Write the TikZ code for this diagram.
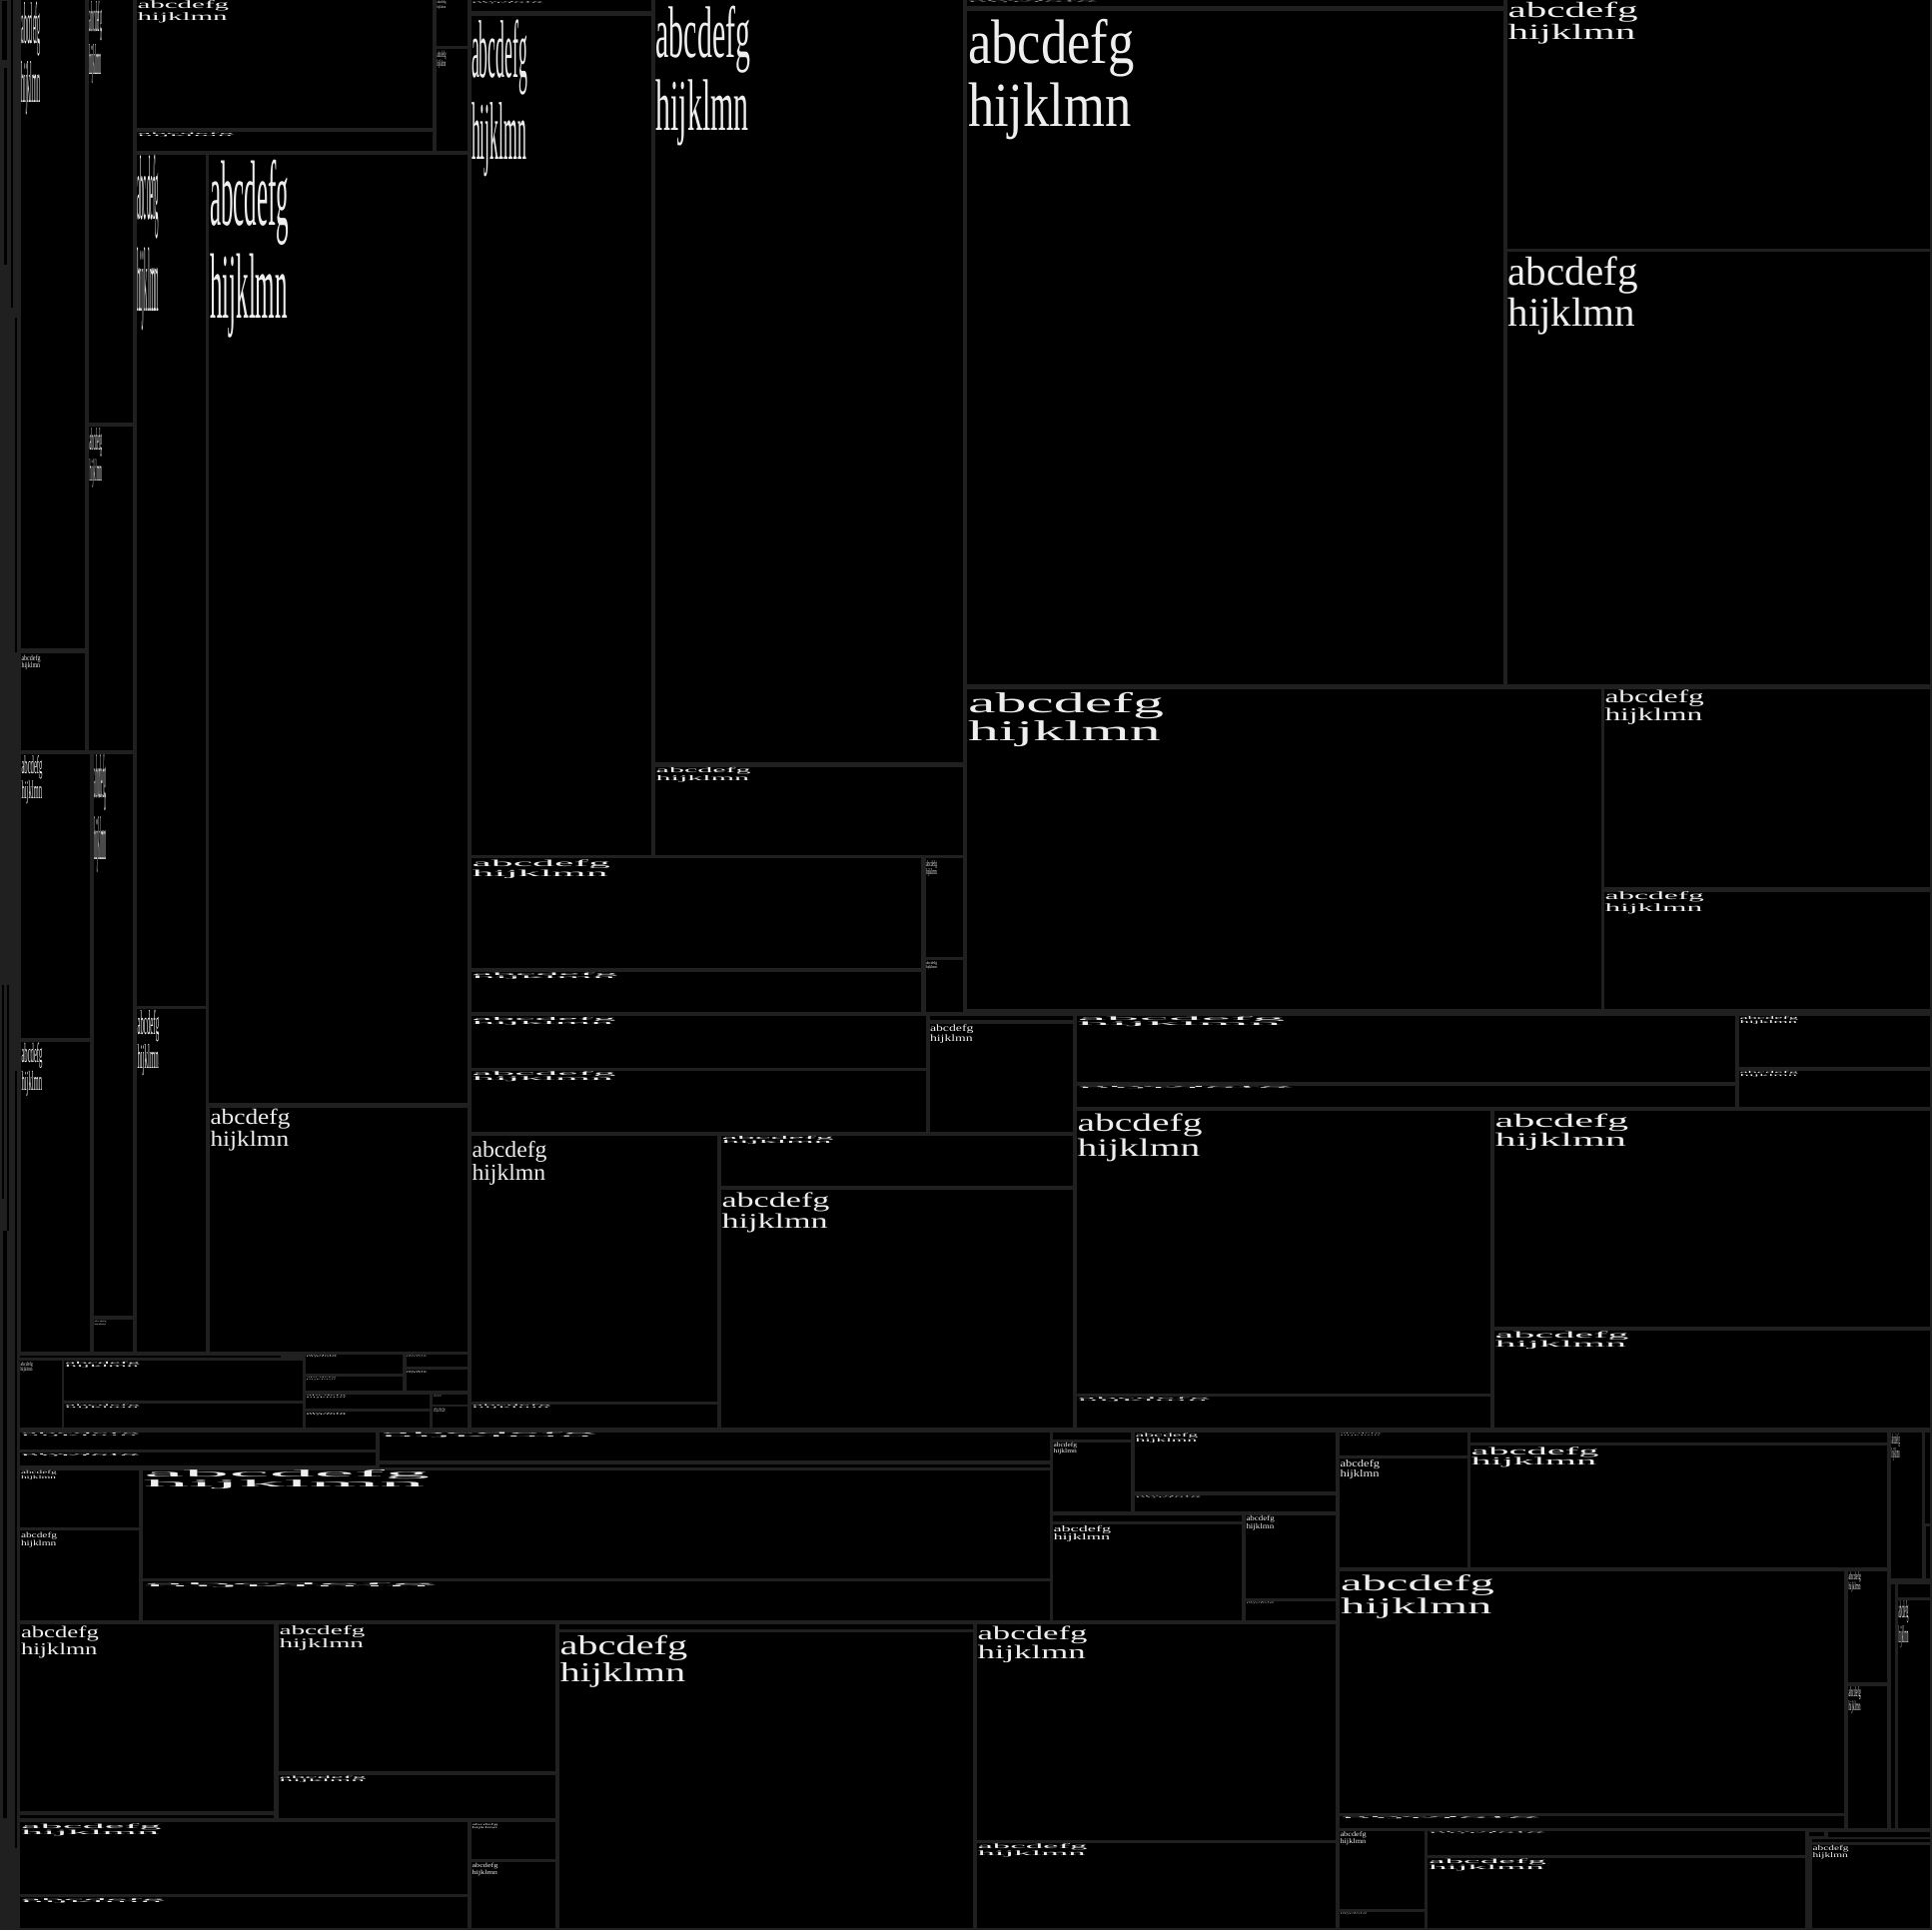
\documentclass[tikz,border=0pt]{standalone}
\usepackage{fontspec}
\setmainfont{Liberation Serif}
\usepackage{graphicx}
\definecolor{gapc}{RGB}{32,32,32}
\definecolor{inkc}{RGB}{238,238,238}
\newcommand\lblbox{\vbox{\fontsize{10pt}{10pt}\selectfont\baselineskip=10pt\hbox{abcdefg}\hbox{hijklmn}}}
\tikzset{
  cellbox/.style={fill=black},
  sliver/.style={fill=black},
  lbltext/.style={anchor=north west, inner sep=0pt, outer sep=0pt, text=inkc}
}
\newcommand\cell[4]{\fill[cellbox] (#1,#2) rectangle (#3,#4);}
\newcommand\lbl[5]{\node[lbltext] (#1) at (#2,#3) {\resizebox*{#4pt}{#5pt}{\lblbox}};}
\begin{document}
\begin{tikzpicture}[x=1pt,y=-1pt]
\useasboundingbox (0,0) rectangle (1934,1932);
\fill[gapc] (0,0) rectangle (1934,1932);
% left strip slivers
\fill[sliver] (2,1) rectangle (7,60);
\fill[sliver] (4,68) rectangle (7,265);
\fill[sliver] (11,0) rectangle (12.5,308);
\fill[sliver] (14.7,318) rectangle (17.3,653);
\fill[sliver] (2,986) rectangle (3.5,1200);
\fill[sliver] (7.3,986) rectangle (9,1232);
\fill[sliver] (14.7,1072) rectangle (16.7,1850);
\fill[sliver] (3,1232) rectangle (6.5,1820);
% ---------- region 1 ----------
\cell{20.7}{0}{85}{649.4}        \lbl{l1}{21.5}{2}{19.3}{113}
\cell{20.7}{654}{85}{751}        \lbl{l2}{21.5}{655.5}{19}{15}
\cell{89}{0}{133}{423}           \lbl{l3}{89.5}{1}{12.7}{83}
\cell{89}{427}{133}{751}         \lbl{l4}{89.5}{428}{12.7}{60}
\cell{136.7}{0}{433.3}{128.3}    \lbl{l5}{137.5}{1}{91.7}{21.7}
\cell{136.7}{132.3}{433.3}{150.7}\lbl{l6}{137.5}{133}{97}{4}
\cell{436.7}{0}{468.3}{46}       \lbl{l7}{437.5}{1}{9}{8}
\cell{436.7}{49.3}{468.3}{150.7} \lbl{l8}{437.5}{50.7}{9}{17.7}
\cell{136.7}{155}{206}{1006.5}   \lbl{l9}{137.5}{155.5}{21.7}{175}
\cell{209.3}{155}{468.3}{1104}   \lbl{l10}{210}{160}{79.3}{178}
\cell{20.7}{754.5}{90}{1038.6}   \lbl{l11}{21.5}{756}{21}{49}
\cell{20.7}{1042.7}{90}{1352.6}  \lbl{l12}{21.5}{1044}{21}{53}
\cell{94}{754.5}{132.7}{1317}    \lbl{l13}{94.5}{755.5}{12}{118}
\cell{94}{1321}{132.7}{1352.6}   \lbl{l14}{94.5}{1322.5}{12}{4}
\cell{136.7}{1010}{206}{1352.6}  \lbl{l15}{137.5}{1011}{21.7}{66}
\cell{210}{1108.7}{468.3}{1352.6}\lbl{l16}{210.5}{1110}{80}{42}
% row below region 1
\cell{20}{1356.5}{281}{1359}
\cell{20}{1361.7}{61.7}{1429}    \lbl{l17}{20.5}{1363}{12.3}{11}
\cell{64.3}{1361.7}{302.7}{1401.7}\lbl{l18}{65}{1363}{75}{6}
\cell{64.3}{1405}{302.7}{1429}   \lbl{l19}{65}{1406}{75}{4}
\cell{306}{1356}{403}{1375}      \lbl{l20}{306.5}{1356.5}{30.7}{2.5}
\cell{306}{1378.3}{403}{1392.3}  \lbl{l21}{306.5}{1379}{30}{2.5}
\cell{406.7}{1356}{468.3}{1368.3}\lbl{l22}{407}{1356.5}{20}{2}
\cell{406.7}{1371}{468.3}{1392.3}\lbl{l23}{407}{1372}{20}{3}
\cell{306}{1395.7}{430}{1410}    \lbl{l24}{306.5}{1396.5}{40}{3}
\cell{306}{1413.3}{430}{1429}    \lbl{l25}{306.5}{1414}{40}{3}
\cell{433.3}{1395.7}{468.3}{1406}\lbl{l26}{434}{1396.5}{8}{2}
\cell{433.3}{1408.3}{468.3}{1429}\lbl{l27}{434}{1409.5}{11.7}{5}
% rows y 1434-1622
\cell{20}{1434}{376}{1451}       \lbl{l28}{21}{1434.5}{119}{3}
\cell{20}{1454}{376}{1467}       \lbl{l29}{21}{1455}{119}{3}
\cell{380}{1434}{1051}{1461.7}   \lbl{l30}{381}{1434.5}{216}{4}
\cell{380}{1466}{1051}{1469}
\cell{20}{1471.7}{138.6}{1529.3} \lbl{l32}{21}{1472.5}{35.7}{9}
\cell{20}{1532}{138.6}{1621.7}   \lbl{l33}{21}{1534}{36}{15}
\cell{143}{1472}{1051}{1580}     \lbl{l34}{144}{1472}{286}{19}
\cell{143}{1583.3}{1051}{1621.7} \lbl{l35}{144}{1584.5}{293}{5}
% cells x 1054-1337
\cell{1054}{1434}{1132}{1441}
\cell{1054}{1443.5}{1132}{1513}  \lbl{l37}{1054.5}{1444}{23.7}{12}
\cell{1136}{1434}{1337}{1493}    \lbl{l38}{1136.5}{1434.5}{62.7}{9.7}
\cell{1136}{1497}{1337}{1513}    \lbl{l39}{1136.5}{1497.5}{66}{2}
\cell{1054}{1517}{1243}{1523}
\cell{1054}{1526}{1243}{1622}    \lbl{l41}{1054.5}{1527}{57.7}{16.7}
\cell{1247}{1517}{1337}{1600}    \lbl{l42}{1247.5}{1517.5}{28.3}{14.3}
\cell{1247}{1603}{1337}{1622}    \lbl{l43}{1247.5}{1604}{28}{2}
% far right x 1341-1932
\cell{1341}{1434}{1469}{1457}    \lbl{l44}{1341.5}{1435}{40.7}{2.3}
\cell{1341}{1460}{1469}{1569}    \lbl{l45}{1341.5}{1461.7}{39.7}{19.3}
\cell{1472}{1434}{1889}{1444}
\cell{1472}{1447}{1889}{1569}    \lbl{l47}{1472.5}{1448.3}{128}{21}
\cell{1893}{1434}{1924}{1580}    \lbl{l48}{1893.5}{1435}{8.3}{27.7}
\cell{1927}{1434}{1932}{1525}
\cell{1928}{1528}{1932}{1580}
\cell{1341}{1573}{1846}{1815}    \lbl{l51}{1342}{1576.7}{154}{43.3}
\cell{1341}{1818}{1846}{1830}    \lbl{l52}{1342}{1818.5}{200}{2.5}
\cell{1850}{1573}{1889}{1684}    \lbl{l53}{1850.5}{1573.5}{12.3}{20.7}
\cell{1850}{1688}{1889}{1830}    \lbl{l54}{1850.5}{1688.5}{12.3}{26.7}
\cell{1893}{1586}{1897}{1830}
\cell{1900}{1586}{1932}{1599}
\cell{1900}{1602}{1932}{1830}    \lbl{l57}{1900.5}{1602.5}{10}{46.7}
\cell{1341}{1833}{1426}{1911}    \lbl{l58}{1341.5}{1834}{26.3}{13.3}
\cell{1341}{1914}{1426}{1930}    \lbl{l59}{1341.5}{1914.5}{27}{2}
\cell{1429}{1833}{1807}{1857}    \lbl{l60}{1430}{1834}{117}{2}
\cell{1429}{1860}{1807}{1930}    \lbl{l61}{1430}{1861}{118}{12.3}
\cell{1811}{1834}{1826}{1838}
\cell{1830}{1834}{1932}{1838.5}
\cell{1814}{1840.5}{1932}{1844}
\cell{1814}{1847}{1932}{1930}    \lbl{l65}{1814.5}{1847.5}{36}{14}
% bottom left
\cell{20.3}{1625.7}{273.8}{1813.3}\lbl{l66}{21}{1628}{77.8}{31.7}
\cell{20.3}{1816.7}{273.8}{1820}
\cell{279}{1625.7}{555.8}{1772.7}\lbl{l68}{279.5}{1627.5}{86}{25}
\cell{279}{1776.7}{555.8}{1820}  \lbl{l69}{279.5}{1777.5}{87}{7}
\cell{20.3}{1824.3}{467.9}{1895.7}\lbl{l70}{21}{1825.5}{140.6}{12.3}
\cell{20.3}{1899}{467.9}{1930}   \lbl{l71}{21}{1900.5}{144}{5}
\cell{472}{1824.3}{555.8}{1860.7}\lbl{l72}{472.5}{1825.5}{26}{5.3}
\cell{472}{1864}{555.8}{1930}    \lbl{l73}{472.5}{1865.5}{26}{12}
\cell{560}{1625.7}{973.6}{1630.7}
\cell{560}{1634}{973.6}{1930}    \lbl{l75}{560.5}{1637}{127.8}{52.7}
\cell{978}{1625.7}{1337}{1842}   \lbl{l76}{978.5}{1628}{110}{37}
\cell{978}{1845}{1337}{1930}     \lbl{l77}{978.5}{1846}{110}{13}
% ---------- region 5 ----------
\cell{1078}{1016.7}{1737}{1083.3}\lbl{l78}{1078.5}{1017.5}{208}{10}
\cell{1078}{1086.7}{1737}{1107.7}\lbl{l79}{1078.5}{1087.5}{216}{2.7}
\cell{1741}{1016.7}{1932}{1068.3}\lbl{l80}{1741.5}{1017.5}{58.5}{8}
\cell{1741}{1071.7}{1932}{1107.7}\lbl{l81}{1741.5}{1072.5}{58.5}{5.7}
\cell{1078}{1111.7}{1492}{1395}  \lbl{l82}{1078.5}{1115}{125}{48.3}
\cell{1078}{1398}{1492}{1429.3}  \lbl{l83}{1078.5}{1399}{132.7}{4.3}
\cell{1496}{1111.7}{1932}{1328.3}\lbl{l84}{1496.5}{1115}{133.8}{36.7}
\cell{1496}{1331.7}{1932}{1429.3}\lbl{l85}{1496.5}{1332.5}{134}{17.7}
% ---------- region 2 lower rows and region 4 ----------
\cell{472}{859}{922}{969.4}      \lbl{l86}{472.5}{861}{138.4}{18}
\cell{472}{973}{922}{1013}       \lbl{l87}{472.5}{973.5}{146}{7}
\cell{926.6}{859}{964}{957.5}    \lbl{l88}{927}{861}{11}{16.5}
\cell{926.6}{960.5}{964}{1013}   \lbl{l89}{927}{962}{11}{8.4}
\cell{472}{1017}{926.6}{1068.5}  \lbl{l90}{472.5}{1018}{144}{8.4}
\cell{472}{1071.5}{926.6}{1132.8}\lbl{l91}{472.5}{1072.5}{144}{10.3}
\cell{930.5}{1017}{1074}{1020.6}
\cell{930.5}{1024.5}{1074}{1132.8}\lbl{l93}{931}{1026}{43.5}{18.4}
\cell{472}{1136.6}{718}{1402.6}  \lbl{l94}{472.5}{1142}{75}{44}
\cell{472}{1405.6}{718}{1429.4}  \lbl{l95}{472.5}{1406.5}{79}{3.8}
\cell{722}{1136.6}{1074}{1187}   \lbl{l96}{722.5}{1137.5}{112}{8.4}
\cell{722}{1191}{1074}{1429.4}   \lbl{l97}{722.5}{1194}{108}{40}
% ---------- region 2 top ----------
\cell{471.7}{0}{651.8}{11.2}     \lbl{l98}{472}{1.5}{72}{2}
\cell{471.7}{15.7}{651.8}{855.8} \lbl{l99}{472}{19.6}{56}{157}
\cell{656.2}{0}{964}{763}        \lbl{l100}{656.7}{5.6}{94.4}{140}
\cell{656.2}{767.7}{964}{855.8}  \lbl{l101}{656.7}{768.8}{95}{14}
% ---------- region 3 ----------
\cell{968}{0}{1504.7}{6.5}       \lbl{l102}{968.5}{1}{130}{1.5}
\cell{968}{11}{1504.7}{684.5}    \lbl{l103}{969}{19.5}{166.5}{120.4}
\cell{1509}{0}{1932}{248.5}      \lbl{l104}{1509.5}{2}{130}{42}
\cell{1509}{252.4}{1932}{684.5}  \lbl{l105}{1509.5}{257}{130}{78}
\cell{968}{689.7}{1603}{1009.8}  \lbl{l106}{969}{693}{196}{55}
\cell{1606}{689.7}{1932}{888}    \lbl{l107}{1606.5}{691}{99.4}{34.5}
\cell{1606}{892.6}{1932}{1009.8} \lbl{l108}{1606.5}{893}{99.4}{21.5}
\end{tikzpicture}
\end{document}
